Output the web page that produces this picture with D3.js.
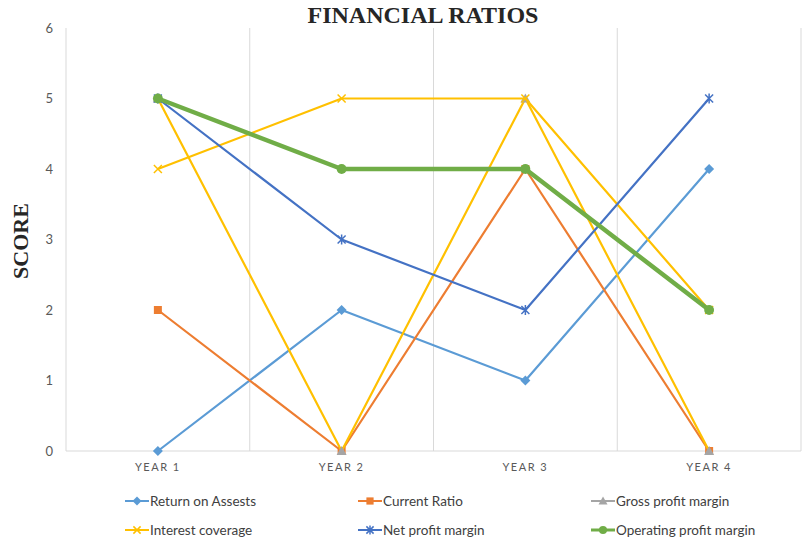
<!DOCTYPE html>
<html>
<head>
<meta charset="utf-8">
<script src="https://cdn.jsdelivr.net/npm/d3@7"></script>
<style>
    body { margin: 0; background: #fff; }
    svg { display: block; }
</style>
</head>
<body>
<div id="chart"></div>
<script>
const years = ['YEAR 1', 'YEAR 2', 'YEAR 3', 'YEAR 4'];
const yTicks = [0, 1, 2, 3, 4, 5, 6];

const returnOnAssets = [0, 2, 1, 4];
const currentRatio = [2, 0, 4, 0];
const grossProfitMargin = [5, 0, 5, 0];
const interestCoverage = [4, 5, 5, 2];
const netProfitMargin = [5, 3, 2, 5];
const operatingProfitMargin = [5, 4, 4, 2];

const series = [
    { name: 'Return on Assests', values: returnOnAssets, line: '#5B9BD5', mark: '#5B9BD5', shape: 'diamond', width: 2.2 },
    { name: 'Current Ratio', values: currentRatio, line: '#ED7D31', mark: '#ED7D31', shape: 'square', width: 2.2 },
    // the reference draws this line in yellow, only markers/legend are gray
    { name: 'Gross profit margin', values: grossProfitMargin, line: '#FFC000', legendLine: '#A5A5A5', mark: '#A5A5A5', shape: 'triangle', width: 2.2 },
    { name: 'Interest coverage', values: interestCoverage, line: '#FFC000', mark: '#FFC000', shape: 'cross', width: 2.2 },
    { name: 'Net profit margin', values: netProfitMargin, line: '#4472C4', mark: '#4472C4', shape: 'star', width: 2.2 },
    { name: 'Operating profit margin', values: operatingProfitMargin, line: '#70AD47', mark: '#70AD47', shape: 'circle', width: 4.5 }
];

const W = 805, H = 540;
const margin = { top: 28, right: 4, bottom: 89, left: 66 };

const svg = d3.select('#chart').append('svg')
    .attr('width', W)
    .attr('height', H);

const x = d3.scaleBand()
    .domain(years)
    .range([margin.left, W - margin.right]);

const y = d3.scaleLinear()
    .domain([0, 6])
    .range([H - margin.bottom, margin.top]);

const cx = d => x(d) + x.bandwidth() / 2;

// vertical grid lines at category boundaries
const bounds = years.map(d => x(d)).concat([x(years[years.length - 1]) + x.bandwidth()]);
svg.append('g')
    .selectAll('line')
    .data(bounds)
    .enter()
    .append('line')
    .attr('x1', d => d).attr('x2', d => d)
    .attr('y1', y(6)).attr('y2', y(0))
    .attr('stroke', '#d9d9d9')
    .attr('stroke-width', 1);

svg.append('line')
    .attr('x1', margin.left).attr('x2', W - margin.right)
    .attr('y1', y(0)).attr('y2', y(0))
    .attr('stroke', '#d9d9d9')
    .attr('stroke-width', 1);

// y tick labels
svg.append('g')
    .selectAll('text')
    .data(yTicks)
    .enter()
    .append('text')
    .attr('x', 53)
    .attr('y', d => y(d) + 4.5)
    .attr('text-anchor', 'end')
    .style('font-family', 'Lato, "Open Sans", sans-serif')
    .style('font-size', '13px')
    .style('fill', '#595959')
    .text(d => d);

// x labels
svg.append('g')
    .selectAll('text')
    .data(years)
    .enter()
    .append('text')
    .attr('x', d => cx(d))
    .attr('y', y(0) + 20)
    .attr('text-anchor', 'middle')
    .style('font-family', 'Lato, "Open Sans", sans-serif')
    .style('font-size', '11px')
    .style('letter-spacing', '1.5px')
    .style('fill', '#595959')
    .text(d => d);

svg.append('text')
    .attr('x', 423)
    .attr('y', 23)
    .attr('text-anchor', 'middle')
    .style('font-family', '"Liberation Serif", serif')
    .style('font-weight', 'bold')
    .style('font-size', '24px')
    .style('fill', '#262626')
    .text('FINANCIAL RATIOS');

svg.append('text')
    .attr('transform', `translate(28,${241}) rotate(-90)`)
    .attr('text-anchor', 'middle')
    .style('font-family', '"Liberation Serif", serif')
    .style('font-weight', 'bold')
    .style('font-size', '22px')
    .style('fill', '#262626')
    .text('SCORE');

function drawMarker(g, shape, color, size) {
    const s = size;
    if (shape === 'diamond') {
        g.append('path').attr('d', `M0,${-s}L${s},0L0,${s}L${-s},0Z`).attr('fill', color);
    } else if (shape === 'square') {
        g.append('rect').attr('x', -s * 0.8).attr('y', -s * 0.8).attr('width', s * 1.6).attr('height', s * 1.6).attr('fill', color);
    } else if (shape === 'triangle') {
        g.append('path').attr('d', `M0,${-s}L${s},${s * 0.8}L${-s},${s * 0.8}Z`).attr('fill', color);
    } else if (shape === 'circle') {
        g.append('circle').attr('r', s * 0.9).attr('fill', color);
    } else if (shape === 'cross') {
        g.append('path').attr('d', `M${-s * 0.8},${-s * 0.8}L${s * 0.8},${s * 0.8}M${s * 0.8},${-s * 0.8}L${-s * 0.8},${s * 0.8}`)
            .attr('stroke', color).attr('stroke-width', 1.5);
    } else if (shape === 'star') {
        g.append('path').attr('d', `M${-s * 0.8},${-s * 0.8}L${s * 0.8},${s * 0.8}M${s * 0.8},${-s * 0.8}L${-s * 0.8},${s * 0.8}M0,${-s}L0,${s}`)
            .attr('stroke', color).attr('stroke-width', 1.5);
    }
}

const line = d3.line()
    .x((d, i) => cx(years[i]))
    .y(d => y(d));

series.forEach(s => {
    const g = svg.append('g');
    g.append('path')
        .datum(s.values)
        .attr('d', line)
        .attr('fill', 'none')
        .attr('stroke', s.line)
        .attr('stroke-width', s.width)
        .attr('stroke-linejoin', 'round');
    s.values.forEach((v, i) => {
        const m = g.append('g').attr('transform', `translate(${cx(years[i])},${y(v)})`);
        drawMarker(m, s.shape, s.mark, s.shape === 'circle' ? 5.5 : 5);
    });
});

// legend
const legendCols = [125, 358, 591];
const legendRows = [501, 530];
series.forEach((s, i) => {
    const lx = legendCols[i % 3];
    const ly = legendRows[Math.floor(i / 3)];
    const g = svg.append('g').attr('transform', `translate(${lx},${ly})`);
    g.append('line')
        .attr('x1', 0).attr('x2', 24)
        .attr('stroke', s.legendLine || s.line)
        .attr('stroke-width', s.width > 3 ? 3 : 2);
    const m = g.append('g').attr('transform', 'translate(12,0)');
    drawMarker(m, s.shape, s.legendLine || s.mark, 4.5);
    g.append('text')
        .attr('x', 25)
        .attr('y', 4.5)
        .style('font-family', 'Lato, "Open Sans", sans-serif')
        .style('font-size', '13.5px')
        .style('fill', '#404040')
        .text(s.name);
});
</script>
</body>
</html>
